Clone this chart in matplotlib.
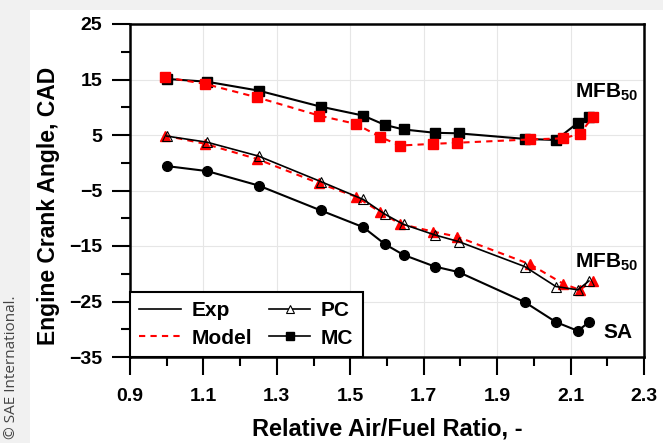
import matplotlib.pyplot as plt
from matplotlib.patches import Rectangle
from matplotlib.ticker import MultipleLocator

# relative air/fuel ratio (lambda)
lam_exp = [1.00, 1.11, 1.25, 1.42, 1.535, 1.595, 1.645, 1.73, 1.795, 1.975, 2.06, 2.12, 2.15]
lam_model = [0.995, 1.105, 1.245, 1.415, 1.515, 1.58, 1.635, 1.725, 1.79, 1.99, 2.08, 2.125, 2.16]

# spark advance (exp only)
sa_exp = [-0.6, -1.5, -4.1, -8.6, -11.6, -14.7, -16.6, -18.7, -19.7, -25.1, -28.7, -30.3, -28.7]

# MFB50 - pre-chamber
pc_exp = [4.8, 3.7, 1.2, -3.4, -6.6, -9.3, -11.1, -13.0, -14.2, -18.7, -22.3, -22.9, -21.3]
pc_model = [4.9, 3.4, 0.7, -3.7, -6.1, -8.8, -11.0, -12.4, -13.3, -18.3, -21.8, -22.9, -21.3]

# MFB50 - main chamber
mc_exp = [15.1, 14.6, 13.0, 10.1, 8.5, 6.8, 6.0, 5.4, 5.3, 4.3, 4.1, 7.2, 8.2]
mc_model = [15.4, 14.2, 11.8, 8.5, 7.0, 4.7, 3.1, 3.4, 3.6, 4.2, 4.4, 5.2, 8.2]

plt.rcParams['font.family'] = ['Liberation Sans', 'DejaVu Sans']
plt.rcParams['mathtext.fontset'] = 'custom'
plt.rcParams['mathtext.bf'] = 'Liberation Sans:bold'
plt.rcParams['mathtext.rm'] = 'Liberation Sans:bold'

fig = plt.figure(figsize=(6.63, 4.43), dpi=100, facecolor='#f1f1f1')
# white page behind the chart
fig.patches.append(Rectangle((30 / 663, 0), 1, 1 - 10 / 443, transform=fig.transFigure,
                             facecolor='white', edgecolor='none', zorder=-1))

ax = fig.add_axes([130 / 663, 1 - 357 / 443, 514 / 663, 333 / 443])

# experiments
ax.plot(lam_exp, sa_exp, color='black', lw=1.5, marker='o', ms=7, zorder=3)
ax.plot(lam_exp, mc_exp, color='black', lw=1.5, marker='s', ms=7, zorder=3)

# model
ax.plot(lam_model, mc_model, color='red', lw=1.5, ls=(0, (3, 2.5)), marker='s', ms=7, zorder=4)
ax.plot(lam_model, pc_model, color='red', lw=1.5, ls=(0, (3, 2.5)), marker='^', ms=7, zorder=4)
ax.plot(lam_exp, pc_exp, color='black', lw=1.2, marker='^', ms=7, mfc='none', mew=0.8, zorder=5)

ax.set_xlim(0.9, 2.3)
ax.set_ylim(-35, 25)
ax.set_yticks([25, 15, 5, -5, -15, -25, -35])
ax.yaxis.set_minor_locator(MultipleLocator(5))
ax.set_xticks([0.9, 1.1, 1.3, 1.5, 1.7, 1.9, 2.1, 2.3])
ax.xaxis.set_minor_locator(MultipleLocator(0.1))

ax.tick_params(which='major', direction='out', length=13, width=1.5, labelsize=14)
ax.tick_params(which='minor', direction='out', length=6.5, width=1.5)
ax.tick_params(axis='y', which='major', pad=7)
ax.tick_params(axis='x', which='major', pad=9)
for lab in ax.get_xticklabels() + ax.get_yticklabels():
    lab.set_fontweight('bold')

for s in ax.spines.values():
    s.set_linewidth(1.8)

ax.grid(True, which='major', color='#e6e6e6', lw=0.8, zorder=0)

ax.set_xlabel('Relative Air/Fuel Ratio, -', fontsize=17, fontweight='bold', labelpad=9)
ax.set_ylabel('Engine Crank Angle, CAD', fontsize=16.5, fontweight='bold')
ax.yaxis.set_label_coords(-0.136, 0.453)

# labels next to the curves
ax.text(2.113, 11.7, 'MFB$_{\\mathbf{50}}$', fontsize=15, fontweight='bold', ha='left', va='baseline')
ax.text(2.113, -18.9, 'MFB$_{\\mathbf{50}}$', fontsize=15, fontweight='bold', ha='left', va='baseline')
ax.text(2.19, -31.6, 'SA', fontsize=15, fontweight='bold', ha='left', va='baseline')

# legend
h_exp, = ax.plot([], [], color='black', lw=1.2)
h_model, = ax.plot([], [], color='red', lw=1.5, ls=(0, (3, 2.5)))
h_pc, = ax.plot([], [], color='black', lw=1.2, marker='^', ms=6, mfc='white', mew=0.8)
h_mc, = ax.plot([], [], color='black', lw=1.2, marker='s', ms=6)
leg = ax.legend([h_exp, h_model, h_pc, h_mc], ['Exp', 'Model', 'PC', 'MC'], ncol=2,
                loc='lower left', borderaxespad=0, fancybox=False, edgecolor='black',
                prop={'weight': 'bold', 'size': 15}, handlelength=2.0, columnspacing=0.8,
                handletextpad=0.5, labelspacing=0.4, borderpad=0.45, framealpha=1)
leg.get_frame().set_linewidth(1.5)

fig.text(12 / 663, 0.17, '\u00a9 SAE International.', rotation=90, fontsize=11,
         color='#444444', ha='center', va='center', family=['Open Sans', 'DejaVu Sans'])

fig.savefig('out.png', dpi=100, facecolor=fig.get_facecolor())
